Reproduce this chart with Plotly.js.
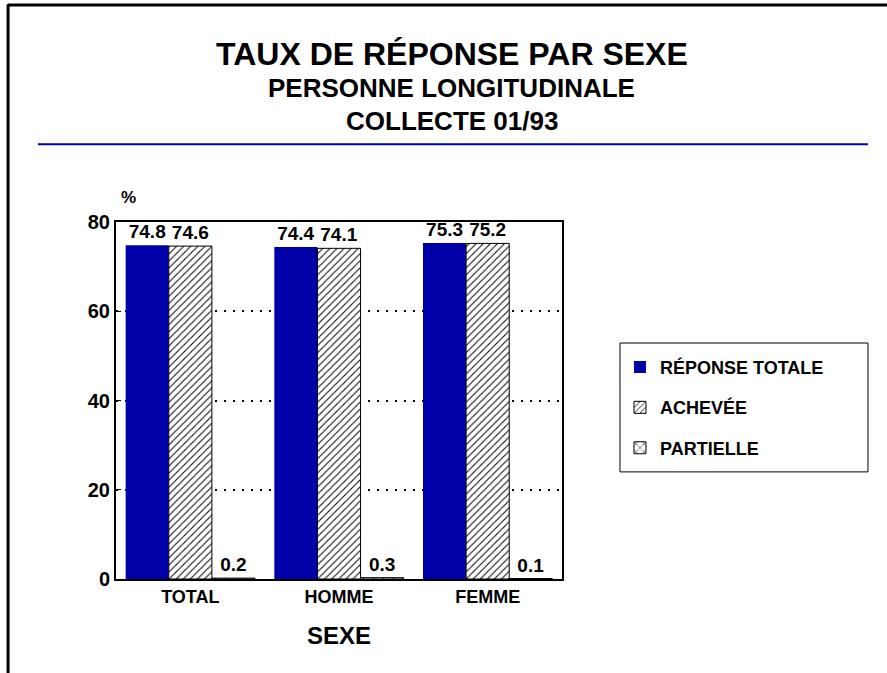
<!DOCTYPE html>
<html>
<head>
<meta charset="utf-8">
<script src="https://cdn.plot.ly/plotly-3.0.1.min.js"></script>
<style>
  body { margin: 0; background: #fff; }
  #chart { width: 887px; height: 673px; }
</style>
</head>
<body>
<div id="chart"></div>
<script>
// data
var categories = ["TOTAL", "HOMME", "FEMME"];
var reponseTotale = [74.8, 74.4, 75.3];
var achevee = [74.6, 74.1, 75.2];
var partielle = [0.2, 0.3, 0.1];
var seriesNames = ["RÉPONSE TOTALE", "ACHEVÉE", "PARTIELLE"];

var blue = "#0000a8";
var font = "Liberation Sans, Arial, sans-serif";
var labelFont = {family: font, size: 19, color: "#000", weight: "bold"};

var trace1 = {
  x: categories, y: reponseTotale, type: "bar", name: seriesNames[0],
  legendgroup: "a",
  marker: {color: blue, line: {width: 0}},
  text: reponseTotale.map(function (v) { return v.toFixed(1); }),
  textposition: "outside", textfont: labelFont, cliponaxis: false
};
var trace2 = {
  x: categories, y: achevee, type: "bar", name: seriesNames[1],
  legendgroup: "b",
  marker: {color: "#fff", line: {color: "#000", width: 1},
    pattern: {shape: "/", fgcolor: "#000", bgcolor: "#fff", size: 5, solidity: 0.2}},
  text: achevee.map(function (v) { return v.toFixed(1); }),
  textposition: "outside", textfont: labelFont, cliponaxis: false
};
var trace3 = {
  x: categories, y: partielle, type: "bar", name: seriesNames[2],
  legendgroup: "c",
  marker: {color: "#fff", line: {color: "#000", width: 1},
    pattern: {shape: "x", fgcolor: "#000", bgcolor: "#fff", size: 7, solidity: 0.15}},
  text: partielle.map(function (v) { return v.toFixed(1); }),
  textposition: "outside", textfont: labelFont, cliponaxis: false
};

var layout = {
  width: 887, height: 673,
  margin: {l: 116, r: 325, t: 222, b: 94},
  paper_bgcolor: "#fff", plot_bgcolor: "#fff",
  font: {family: font, color: "#000"},
  barmode: "group", bargap: 0.13, bargroupgap: 0,
  showlegend: true,
  legend: {
    x: 1.13, y: 0.645, xanchor: "left", yanchor: "top",
    bgcolor: "rgba(0,0,0,0)", borderwidth: 0,
    font: {family: font, size: 18, weight: "bold"},
    traceorder: "grouped", tracegroupgap: 14
  },
  xaxis: {
    showline: true, linecolor: "#000", linewidth: 2, mirror: true,
    ticks: "", tickfont: {family: font, size: 18, weight: "bold"},
    title: {text: "SEXE", font: {family: font, size: 24, weight: "bold"}, standoff: 22}
  },
  yaxis: {
    range: [0, 80], tickvals: [0, 20, 40, 60, 80],
    showline: true, linecolor: "#000", linewidth: 2, mirror: true,
    ticks: "inside", ticklen: 5, tickcolor: "#000", tickwidth: 1,
    zeroline: false,
    showgrid: true, gridcolor: "#000", gridwidth: 2, griddash: "2px,7px",
    tickfont: {family: font, size: 20, weight: "bold"}
  },
  annotations: [
    {text: "TAUX DE RÉPONSE PAR SEXE", xref: "paper", yref: "paper", x: 0.753, y: 1.4706,
      xanchor: "center", yanchor: "middle", showarrow: false,
      font: {family: font, size: 32, weight: "bold"}},
    {text: "PERSONNE LONGITUDINALE", xref: "paper", yref: "paper", x: 0.753, y: 1.375,
      xanchor: "center", yanchor: "middle", showarrow: false,
      font: {family: font, size: 26, weight: "bold"}},
    {text: "COLLECTE 01/93", xref: "paper", yref: "paper", x: 0.753, y: 1.283,
      xanchor: "center", yanchor: "middle", showarrow: false,
      font: {family: font, size: 26, weight: "bold"}},
    {text: "%", xref: "paper", yref: "paper", x: 0.027, y: 1.07,
      xanchor: "center", yanchor: "middle", showarrow: false,
      font: {family: font, size: 17, weight: "bold"}}
  ],
  shapes: [
    // blue rule under the title
    {type: "line", xref: "paper", yref: "paper", x0: -0.175, x1: 1.686, y0: 1.218, y1: 1.218,
      line: {color: blue, width: 2}},
    // outer frame (top and left)
    {type: "line", xref: "paper", yref: "paper", x0: -0.242, x1: 1.8, y0: 1.608, y1: 1.608,
      line: {color: "#000", width: 3}},
    {type: "line", xref: "paper", yref: "paper", x0: -0.242, x1: -0.242, y0: 1.61, y1: -0.3,
      line: {color: "#000", width: 3}},
    // legend box
    {type: "rect", xref: "paper", yref: "paper", x0: 1.13, x1: 1.686, y0: 0.30, y1: 0.661,
      line: {color: "#000", width: 1}}
  ]
};

Plotly.newPlot("chart", [trace1, trace2, trace3], layout, {displayModeBar: false});
</script>
</body>
</html>
